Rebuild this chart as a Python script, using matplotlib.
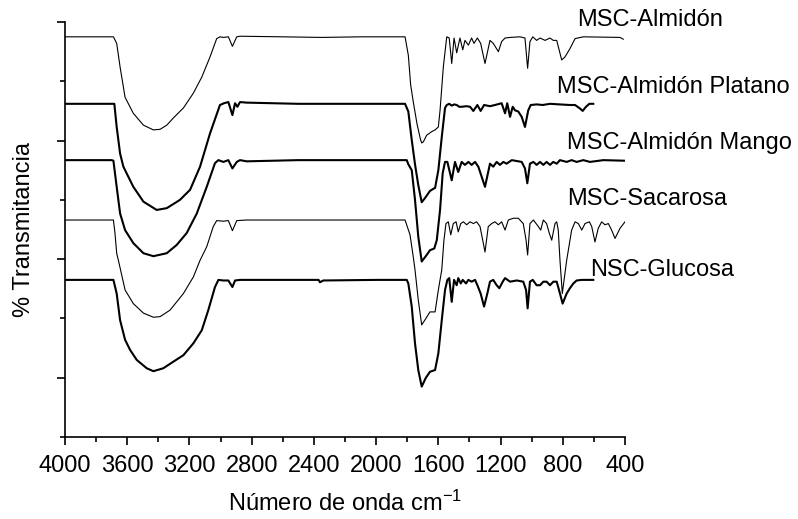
import matplotlib
matplotlib.use("Agg")
import matplotlib.pyplot as plt
from matplotlib.ticker import FixedLocator, MultipleLocator

plt.rcParams['font.family'] = ['Liberation Sans', 'DejaVu Sans']
plt.rcParams['mathtext.default'] = 'regular'

# MSC-Almidón (thin)
w_almidon = [4000, 3700, 3689, 3668, 3646, 3614, 3561, 3496, 3432, 3389, 3346, 3304, 3239, 3175,
             3121, 3068, 3025, 3004, 2982, 2950, 2924, 2896, 2875, 2600, 2350, 2100, 1850, 1814,
             1793, 1778, 1761, 1737, 1715, 1707, 1696, 1675, 1643, 1621, 1600, 1589, 1568, 1546,
             1530, 1514, 1499, 1482, 1461, 1443, 1429, 1407, 1386, 1371, 1349, 1328, 1300, 1268,
             1247, 1214, 1193, 1171, 1139, 1075, 1043, 1026, 1011, 993, 968, 946, 914, 882, 861,
             839, 807, 786, 754, 721, 668, 432, 411]
t_almidon = [67.5, 67.5, 67.5, 66.4, 62.4, 57.3, 54.6, 52.6, 51.8, 51.9, 52.6, 53.8, 55.5, 58.0,
             60.7, 64.1, 67.2, 67.5, 67.4, 67.5, 65.9, 67.5, 67.6, 67.5, 67.4, 67.5, 67.5, 67.5,
             64.4, 59.4, 56.5, 52.8, 50.2, 49.6, 49.8, 50.9, 51.5, 51.8, 52.3, 55.1, 62.4, 67.5,
             67.3, 63.0, 67.3, 64.8, 67.3, 65.3, 66.9, 66.1, 67.3, 66.4, 67.3, 66.4, 63.0, 66.9,
             66.4, 65.0, 66.7, 67.3, 67.4, 67.5, 67.3, 62.2, 66.7, 67.5, 66.9, 67.3, 66.9, 67.3,
             66.9, 66.9, 63.6, 64.1, 65.5, 67.2, 67.5, 67.4, 67.1]

# MSC-Almidón Platano (thick)
w_platano = [4000, 3700, 3683, 3668, 3646, 3625, 3561, 3496, 3411, 3346, 3261, 3196, 3132, 3068,
             3004, 2978, 2950, 2924, 2907, 2892, 2875, 2832, 2500, 2200, 1850, 1814, 1793, 1771,
             1750, 1729, 1707, 1686, 1654, 1630, 1621, 1600, 1578, 1557, 1546, 1530, 1514, 1498,
             1482, 1466, 1450, 1420, 1396, 1375, 1349, 1328, 1306, 1268, 1236, 1193, 1171, 1157,
             1139, 1122, 1107, 1086, 1064, 1043, 1022, 1006, 968, 930, 882, 820, 754, 721, 689,
             672, 651, 629, 604]
t_platano = [56.2, 56.2, 56.2, 52.3, 47.8, 45.6, 42.2, 39.7, 38.3, 38.6, 40.0, 41.7, 45.6, 51.2,
             56.0, 56.3, 56.5, 54.3, 56.3, 55.7, 56.5, 56.4, 56.2, 56.2, 56.2, 56.2, 54.9, 50.1,
             46.0, 42.5, 39.6, 40.3, 41.5, 41.9, 42.0, 45.0, 50.6, 55.5, 56.0, 56.2, 55.9, 56.1,
             56.0, 55.7, 55.7, 55.8, 55.7, 55.0, 56.0, 55.0, 56.0, 55.8, 56.0, 56.3, 54.6, 56.3,
             54.0, 55.7, 55.1, 54.9, 54.0, 52.3, 55.1, 56.0, 56.1, 56.0, 56.2, 56.1, 56.0, 56.0,
             55.4, 55.0, 55.7, 56.2, 56.2]

# MSC-Almidón Mango (thick)
w_mango = [4000, 3700, 3689, 3668, 3646, 3614, 3561, 3496, 3432, 3346, 3282, 3218, 3153, 3089,
           3036, 3014, 2982, 2950, 2924, 2896, 2875, 2832, 2500, 2200, 1850, 1803, 1793, 1771,
           1750, 1729, 1707, 1675, 1654, 1626, 1610, 1589, 1572, 1557, 1542, 1514, 1493, 1472,
           1450, 1429, 1407, 1386, 1364, 1343, 1300, 1268, 1247, 1225, 1204, 1182, 1161, 1128,
           1064, 1043, 1028, 1011, 989, 968, 946, 925, 904, 882, 861, 839, 818, 775, 743, 711,
           668, 625, 539, 400]
t_mango = [46.7, 46.7, 46.6, 42.2, 37.7, 34.9, 32.7, 31.0, 30.5, 31.0, 32.4, 34.4, 37.7, 42.2,
           46.2, 46.7, 46.4, 46.7, 45.3, 46.4, 46.7, 46.5, 46.7, 46.7, 46.7, 46.7, 46.0, 45.0,
           40.0, 33.8, 29.6, 30.7, 31.5, 31.8, 33.2, 38.3, 44.5, 46.4, 46.4, 43.3, 46.4, 44.7,
           46.4, 45.9, 46.4, 45.9, 46.4, 45.6, 42.2, 46.1, 45.6, 46.4, 45.9, 46.4, 46.1, 46.7,
           46.4, 45.3, 42.8, 46.1, 46.4, 45.9, 46.4, 45.9, 46.4, 45.9, 46.4, 46.1, 46.7, 46.4,
           46.7, 46.4, 46.7, 46.4, 46.7, 46.6]

# MSC-Sacarosa (thin)
w_sacarosa = [4000, 3700, 3689, 3679, 3668, 3657, 3614, 3561, 3496, 3432, 3389, 3325, 3239, 3175,
              3132, 3089, 3047, 3025, 2982, 2950, 2924, 2896, 2832, 2500, 2200, 1850, 1814, 1782,
              1763, 1750, 1729, 1707, 1680, 1654, 1621, 1600, 1578, 1564, 1551, 1536, 1520, 1504,
              1486, 1472, 1456, 1439, 1418, 1396, 1375, 1354, 1332, 1311, 1300, 1279, 1257, 1236,
              1214, 1193, 1171, 1150, 1118, 1086, 1054, 1036, 1026, 1011, 989, 957, 942, 925, 904,
              887, 871, 850, 839, 829, 818, 803, 775, 743, 721, 700, 678, 657, 629, 614, 593, 572,
              550, 529, 507, 486, 464, 432, 400]
t_sacarosa = [36.6, 36.6, 36.6, 34.4, 31.0, 29.8, 24.8, 22.5, 20.9, 20.2, 20.3, 21.4, 24.2, 27.0,
              29.8, 32.1, 35.5, 36.5, 36.4, 36.5, 34.8, 36.5, 36.6, 36.6, 36.6, 36.6, 36.6, 34.1,
              30.7, 28.2, 23.1, 18.9, 20.0, 21.1, 21.1, 24.8, 28.2, 33.2, 36.0, 36.3, 34.1, 36.0,
              36.3, 34.6, 36.0, 36.3, 35.8, 36.3, 36.0, 36.3, 35.5, 32.7, 31.2, 35.5, 36.0, 36.3,
              35.8, 36.3, 34.9, 36.6, 36.9, 36.9, 36.0, 33.2, 30.7, 36.0, 36.6, 35.5, 34.9, 36.6,
              36.0, 34.4, 33.2, 36.0, 36.3, 34.9, 29.8, 24.2, 29.8, 34.9, 36.3, 36.0, 34.9, 36.0,
              36.3, 35.5, 32.9, 35.2, 36.3, 35.8, 36.0, 34.9, 33.5, 35.2, 36.3]

# NSC-Glucosa (thick)
w_glucosa = [4000, 3700, 3689, 3668, 3646, 3614, 3582, 3539, 3475, 3432, 3368, 3304, 3239, 3175,
             3121, 3079, 3036, 3014, 2982, 2950, 2924, 2907, 2875, 2500, 2370, 2361, 2340, 2000,
             1850, 1803, 1793, 1771, 1750, 1729, 1707, 1680, 1654, 1621, 1600, 1578, 1557, 1542,
             1530, 1514, 1499, 1482, 1472, 1456, 1443, 1422, 1407, 1386, 1364, 1349, 1328, 1306,
             1285, 1268, 1247, 1225, 1208, 1186, 1171, 1139, 1096, 1054, 1036, 1026, 1011, 993,
             968, 946, 925, 904, 882, 861, 839, 818, 801, 775, 754, 732, 711, 678, 604]
t_glucosa = [26.5, 26.5, 26.5, 24.2, 19.7, 16.4, 14.7, 13.0, 11.6, 11.1, 11.6, 12.7, 13.8, 15.8,
             18.0, 21.4, 25.3, 26.5, 26.4, 26.4, 25.3, 26.4, 26.5, 26.5, 26.5, 26.1, 26.4, 26.5,
             26.5, 26.5, 25.9, 22.0, 15.8, 11.3, 8.5, 10.0, 11.0, 11.3, 14.1, 19.7, 24.8, 26.5,
             26.8, 22.8, 26.5, 25.6, 26.8, 25.9, 26.5, 25.9, 26.5, 26.2, 26.5, 25.6, 24.2, 22.0,
             24.2, 26.2, 26.5, 25.6, 25.1, 26.2, 26.8, 26.2, 26.4, 26.2, 24.8, 21.7, 26.2, 26.5,
             25.6, 25.6, 26.2, 26.2, 25.6, 26.2, 26.2, 24.2, 22.5, 24.2, 25.1, 25.9, 26.4, 26.5, 26.5]

labels = ['MSC-Almidón', 'MSC-Almidón Platano', 'MSC-Almidón Mango', 'MSC-Sacarosa', 'NSC-Glucosa']
label_x = [709, 837, 773, 773, 625]
label_y = [69.3, 58.0, 48.6, 39.2, 27.2]

fig = plt.figure(figsize=(7.98, 5.19), dpi=100)
ax = fig.add_axes([0.0815, 0.158, 0.7017, 0.7996])

ax.plot(w_almidon, t_almidon, color='black', lw=0.8)
ax.plot(w_platano, t_platano, color='black', lw=1.5)
ax.plot(w_mango, t_mango, color='black', lw=1.5)
ax.plot(w_sacarosa, t_sacarosa, color='black', lw=0.8)
ax.plot(w_glucosa, t_glucosa, color='black', lw=1.5)

for txt, lx, ly in zip(labels, label_x, label_y):
    ax.text(lx, ly, txt, fontsize=17, ha='left', va='baseline', clip_on=False)

ax.set_xlim(4000, 400)
ax.set_ylim(0, 70)
ax.xaxis.set_major_locator(MultipleLocator(400))
ax.xaxis.set_minor_locator(MultipleLocator(200))
ax.yaxis.set_major_locator(FixedLocator([10, 30, 50, 70]))
ax.yaxis.set_minor_locator(FixedLocator([0, 20, 40, 60]))
ax.set_yticklabels([])
ax.tick_params(axis='both', which='major', direction='out', length=6, width=1.2, labelsize=17)
ax.tick_params(axis='both', which='minor', direction='out', length=3.5, width=1.2)
ax.tick_params(axis='x', pad=7)

ax.spines['top'].set_visible(False)
ax.spines['right'].set_visible(False)
ax.spines['left'].set_linewidth(1.2)
ax.spines['bottom'].set_linewidth(1.2)

ax.set_xlabel('Número de onda cm$^{-1}$', fontsize=17, labelpad=10)
ax.set_ylabel('% Transmitancia', fontsize=17, labelpad=12)

fig.savefig('out.png', dpi=100)
